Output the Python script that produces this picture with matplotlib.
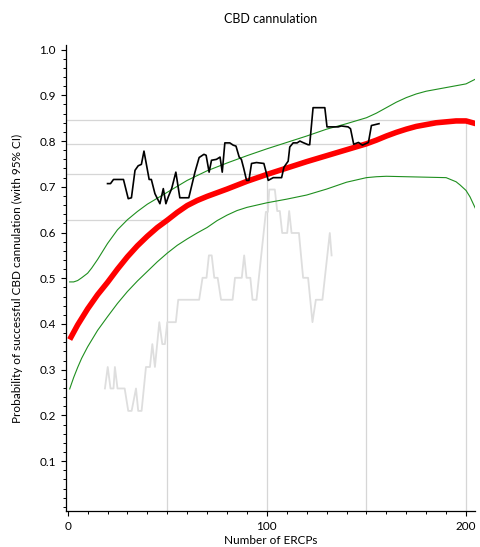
import numpy as np
import matplotlib
matplotlib.use('Agg')
from matplotlib import pyplot as plt
from matplotlib.ticker import MultipleLocator, FormatStrFormatter

plt.rcParams['font.family'] = ['Lato', 'DejaVu Sans']

# fitted learning curve (red) and its 95% CI (green)
red_x = [1, 5, 10, 15, 20, 25, 30, 35, 40, 45, 50, 55, 60, 65, 70, 75, 80, 90, 100, 110, 120, 130, 140, 150,
         155, 160, 165, 170, 175, 180, 185, 190, 195, 200, 205]
red_y = [0.366, 0.398, 0.433, 0.464, 0.491, 0.520, 0.547, 0.571, 0.592, 0.611, 0.627, 0.644, 0.659, 0.670,
         0.679, 0.687, 0.695, 0.712, 0.727, 0.741, 0.755, 0.768, 0.781, 0.794, 0.802, 0.811, 0.819, 0.826,
         0.832, 0.836, 0.840, 0.842, 0.844, 0.844, 0.838]

up_x = [1, 3, 5, 7, 10, 12, 15, 20, 25, 30, 35, 40, 50, 60, 70, 80, 90, 100, 110, 120, 130, 140, 150, 155,
        160, 165, 170, 175, 180, 190, 200, 205]
up_y = [0.492, 0.492, 0.495, 0.501, 0.511, 0.522, 0.541, 0.576, 0.606, 0.628, 0.646, 0.662, 0.688, 0.714,
        0.735, 0.752, 0.768, 0.783, 0.797, 0.811, 0.826, 0.838, 0.851, 0.861, 0.873, 0.885, 0.895, 0.903,
        0.909, 0.917, 0.925, 0.936]

lo_x = [1, 3, 5, 7, 10, 15, 20, 25, 30, 35, 40, 45, 50, 55, 60, 65, 70, 75, 80, 85, 90, 100, 110, 120, 130,
        140, 150, 155, 160, 170, 180, 190, 195, 197, 200, 202, 205]
lo_y = [0.258, 0.283, 0.305, 0.325, 0.350, 0.386, 0.416, 0.445, 0.471, 0.494, 0.515, 0.536, 0.555, 0.572,
        0.586, 0.599, 0.611, 0.626, 0.638, 0.648, 0.655, 0.665, 0.673, 0.682, 0.695, 0.710, 0.720, 0.722,
        0.723, 0.722, 0.721, 0.720, 0.711, 0.704, 0.692, 0.678, 0.650]

# moving success rate (black)
blk_x = [20, 21.5, 23, 28, 30.4, 32, 33.8, 35.4, 37, 38.3, 40.9, 42, 43.8, 46.3, 48, 49.3, 50.5, 52.2,
         54.3, 56.3, 60.8, 63.9, 66, 68.4, 69.5, 71, 72.2, 74.7, 76.5, 77.6, 78.9, 81.4, 83.1, 84.5, 86.1,
         87.2, 88.4, 89.8, 91, 92.3, 94.8, 98.5, 100.7, 103.2, 107.4, 108.6, 110.7, 111.5, 113.2, 115.2,
         116.6, 118, 120.7, 121.5, 123.2, 129.1, 130.2, 135.8, 137.4, 140.8, 142, 143.6, 146, 148, 151,
         152.5, 156.3]
blk_y = [0.707, 0.707, 0.716, 0.716, 0.674, 0.676, 0.736, 0.746, 0.749, 0.778, 0.716, 0.716, 0.685, 0.663,
         0.696, 0.663, 0.678, 0.696, 0.732, 0.676, 0.676, 0.732, 0.764, 0.771, 0.769, 0.732, 0.758, 0.760,
         0.765, 0.732, 0.796, 0.796, 0.791, 0.789, 0.765, 0.760, 0.740, 0.714, 0.714, 0.751, 0.753, 0.751,
         0.714, 0.720, 0.720, 0.743, 0.756, 0.787, 0.796, 0.796, 0.800, 0.797, 0.792, 0.792, 0.873, 0.873,
         0.831, 0.831, 0.833, 0.831, 0.827, 0.793, 0.797, 0.791, 0.797, 0.834, 0.838]

# light grey series
gry_x = [18.7, 20.1, 21.5, 23, 23.7, 25, 28.6, 30.4, 32.1, 34.3, 35.4, 37.1, 39.3, 41.3, 42.5, 43.8, 46,
         47.5, 48.8, 50, 54.3, 55.5, 66, 67.7, 69.7, 70.9, 72.3, 73.6, 75.3, 77, 82.8, 84, 87.4, 88.6, 89.8,
         91.7, 92.8, 94.8, 99.5, 100.5, 101.2, 104, 105.2, 106.5, 107.7, 110.2, 111.2, 112.4, 116.1, 118.2,
         120.7, 122.9, 124.6, 127.9, 131.6, 132.5]
gry_y = [0.259, 0.306, 0.259, 0.259, 0.306, 0.259, 0.259, 0.210, 0.210, 0.259, 0.210, 0.210, 0.306, 0.306,
         0.356, 0.306, 0.404, 0.356, 0.356, 0.404, 0.404, 0.453, 0.453, 0.501, 0.501, 0.550, 0.550, 0.501,
         0.501, 0.453, 0.453, 0.501, 0.501, 0.550, 0.501, 0.501, 0.453, 0.453, 0.645, 0.645, 0.694, 0.694,
         0.647, 0.647, 0.599, 0.599, 0.647, 0.599, 0.599, 0.501, 0.501, 0.404, 0.453, 0.453, 0.599, 0.550]

# drop lines from the curve
ref_x = [50, 100, 150, 200]
ref_y = [0.627, 0.727, 0.794, 0.845]

xmin, xmax = -1, 204.5
ymin, ymax = -0.01, 1.01

fig = plt.figure(figsize=(4.81, 5.47), dpi=100)
ax = fig.add_axes([0.1366, 0.0649, 0.8509, 0.8528])

for rx, ry in zip(ref_x, ref_y):
    ax.plot([xmin, rx], [ry, ry], color='#d6d6d6', lw=0.9, zorder=1)
    ax.plot([rx, rx], [ymin, ry], color='#d6d6d6', lw=0.9, zorder=1)

ax.plot(gry_x, gry_y, color='#dedede', lw=1.3, zorder=2)
ax.plot(up_x, up_y, color='#1f8f1f', lw=0.8, zorder=3)
ax.plot(lo_x, lo_y, color='#1f8f1f', lw=0.8, zorder=3)
ax.plot(red_x, red_y, color='#ff0000', lw=4.0, zorder=4, solid_capstyle='butt')
ax.plot(blk_x, blk_y, color='black', lw=1.2, zorder=5)

ax.set_xlim(xmin, xmax)
ax.set_ylim(ymin, ymax)
ax.spines['top'].set_visible(False)
ax.spines['right'].set_visible(False)
ax.spines['left'].set_linewidth(0.9)
ax.spines['bottom'].set_linewidth(0.9)

ax.set_yticks(np.arange(1, 11) / 10)
ax.yaxis.set_major_formatter(FormatStrFormatter('%.1f'))
ax.yaxis.set_minor_locator(MultipleLocator(0.02))
ax.set_xticks([0, 100, 200])
ax.xaxis.set_minor_locator(MultipleLocator(10))
ax.tick_params(which='major', length=3.5, width=0.8, labelsize=8.5, direction='out')
ax.tick_params(which='minor', length=2, width=0.7, direction='out')

ax.set_title('CBD cannulation', fontsize=9, pad=16)
ax.set_xlabel('Number of ERCPs', fontsize=8.5, labelpad=2)
ax.set_ylabel('Probability of successful CBD cannulation (with 95% CI)', fontsize=8.5, labelpad=12)

fig.savefig('out.png', dpi=100)
